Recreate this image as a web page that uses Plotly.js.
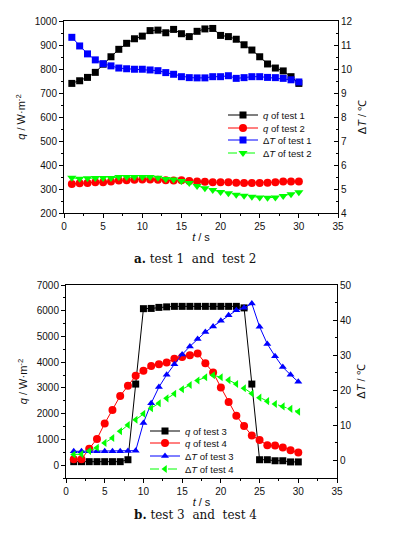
<!DOCTYPE html>
<html>
<head>
<meta charset="utf-8">
<script src="https://cdn.plot.ly/plotly-3.0.1.min.js"></script>
<style>
html,body{margin:0;padding:0;background:#fff;}
#chart{width:394px;height:534px;}
</style>
</head>
<body>
<div id="chart"></div>
<script>
// ---- data ----
var tTop = [1,2,3,4,5,6,7,8,9,10,11,12,13,14,15,16,17,18,19,20,21,22,23,24,25,26,27,28,29,30];
var qTest1 = [740,751,765,786,820,851,882,907,926,937,960,962,951,965,947,935,957,967,969,940,935,924,901,879,851,821,804,792,768,740];
var qTest2 = [321,324,325,328,328,331,335,336,339,340,340,339,336,335,336,333,331,330,328,328,328,326,325,325,325,326,328,331,331,331];
var dTTest1 = [11.32,10.96,10.63,10.38,10.22,10.13,10.04,10.01,9.99,9.99,9.96,9.93,9.85,9.78,9.68,9.64,9.63,9.63,9.68,9.68,9.72,9.61,9.64,9.68,9.68,9.65,9.64,9.61,9.55,9.46];
var dTTest2 = [5.47,5.43,5.45,5.46,5.46,5.46,5.50,5.50,5.50,5.50,5.50,5.47,5.42,5.40,5.33,5.25,5.13,5.03,4.96,4.88,4.82,4.76,4.72,4.68,4.65,4.64,4.65,4.71,4.78,4.86];

var tBottom = [1,2,3,4,5,6,7,8,9,10,11,12,13,14,15,16,17,18,19,20,21,22,23,24,25,26,27,28,29,30];
var qTest3 = [135,135,135,135,135,135,135,210,3150,6080,6090,6130,6150,6170,6170,6170,6170,6170,6170,6170,6170,6170,6110,3150,210,210,170,170,125,125];
var qTest4 = [230,230,640,1020,1620,2140,2690,3080,3470,3670,3850,3920,3990,4130,4200,4270,4340,3960,3600,3020,2450,1920,1520,1150,975,770,760,690,578,490];
var dTTest3 = [2.6,2.6,2.6,2.6,2.6,2.6,2.6,2.7,2.8,10.7,16.3,20.9,24.4,27.4,30.2,32.5,34.6,36.6,38.2,39.8,41.4,42.8,43.5,44.7,38.1,33.2,29.7,26.6,24.4,22.4];
var dTTest4 = [1.7,1.8,2.7,3.6,5.0,6.4,8.3,10.1,11.6,13.3,14.9,16.3,17.7,19.0,20.3,21.5,22.8,23.7,24.3,23.7,22.9,21.8,20.6,19.1,17.9,16.9,16.1,15.4,14.7,13.9];

var namesTop = ['<i>q</i> of test 1','<i>q</i> of test 2','Δ<i>T</i> of test 1','Δ<i>T</i> of test 2'];
var namesBottom = ['<i>q</i> of test 3','<i>q</i> of test 4','Δ<i>T</i> of test 3','Δ<i>T</i> of test 4'];
var captionTop = '<b>a.</b> test 1  and  test 2';
var captionBottom = '<b>b.</b> test 3  and  test 4';

// ---- layout helpers ----
var W = 394, H = 534;
function px(x){ return x / W; }
function py(y){ return 1 - y / H; }

var FONT = 'Liberation Sans, Arial, sans-serif';

function tr(x, y, name, xa, ya, color, symbol, size, dash, legend){
  return {
    x: x, y: y, name: name, xaxis: xa, yaxis: ya, legend: legend,
    type: 'scatter', mode: 'lines+markers',
    line: {color: color, width: 1, dash: dash},
    marker: {color: color, symbol: symbol, size: size, line: {width: 0}}
  };
}

var data = [
  tr(tTop, qTest1, namesTop[0], 'x', 'y', '#000000', 'square', 7, 'solid', 'legend'),
  tr(tTop, qTest2, namesTop[1], 'x', 'y', '#ff0000', 'circle', 8, 'solid', 'legend2'),
  tr(tTop, dTTest1, namesTop[2], 'x', 'y2', '#0000ff', 'square', 7, 'solid', 'legend3'),
  tr(tTop, dTTest2, namesTop[3], 'x', 'y2', '#00ff00', 'triangle-down', 8, 'dash', 'legend4'),
  tr(tBottom, qTest3, namesBottom[0], 'x2', 'y3', '#000000', 'square', 7, 'solid', 'legend5'),
  tr(tBottom, qTest4, namesBottom[1], 'x2', 'y3', '#ff0000', 'circle', 8, 'solid', 'legend6'),
  tr(tBottom, dTTest3, namesBottom[2], 'x2', 'y4', '#0000ff', 'triangle-up', 7, 'solid', 'legend7'),
  tr(tBottom, dTTest4, namesBottom[3], 'x2', 'y4', '#00ff00', 'triangle-left', 7, 'dash', 'legend8')
];

var tickFont = {family: FONT, size: 10, color: '#111'};
var titleFont = {family: FONT, size: 11, color: '#111'};

function xAxis(domain, anchor){
  return {
    domain: domain, anchor: anchor, range: [0, 35], dtick: 5, tick0: 0,
    ticks: 'outside', ticklen: 4, tickwidth: 1, tickcolor: '#000',
    minor: {dtick: 2.5, ticks: 'outside', ticklen: 2, tickcolor: '#000', showgrid: false},
    showline: true, linecolor: '#000', linewidth: 1, mirror: true,
    showgrid: false, zeroline: false, tickfont: tickFont,
    title: {text: '<i>t</i> / s', font: titleFont, standoff: 2},
    automargin: false
  };
}
function yAxis(domain, anchor, range, dtick, minor, title, side, overlay, ticksDir){
  var a = {
    domain: domain, anchor: anchor, range: range, dtick: dtick, tick0: 0,
    ticks: ticksDir, ticklen: 4, tickwidth: 1, tickcolor: '#000',
    minor: {dtick: minor, ticks: ticksDir, ticklen: 2, tickcolor: '#000', showgrid: false},
    showline: true, linecolor: '#000', linewidth: 1,
    showgrid: false, zeroline: false, tickfont: tickFont,
    title: {text: title, font: titleFont, standoff: 6},
    side: side, automargin: false
  };
  if (overlay) a.overlaying = overlay;
  return a;
}

var xDomTop = [px(64), px(338)], yDomTop = [py(213), py(21)];
var xDomBot = [px(66), px(337)], yDomBot = [py(478), py(285)];

var capFont = {family: 'DejaVu Serif, Liberation Serif, serif', size: 12, color: '#111'};

var layout = {
  width: W, height: H,
  margin: {l: 0, r: 0, t: 0, b: 0},
  paper_bgcolor: '#fff', plot_bgcolor: 'rgba(0,0,0,0)',
  font: {family: FONT, size: 10, color: '#111'},
  showlegend: true,
  xaxis: xAxis(xDomTop, 'y'),
  yaxis: yAxis(yDomTop, 'x', [200, 1000], 100, 50, '<i>q</i> / W·m<sup>-2</sup>', 'left', null, 'outside'),
  yaxis2: yAxis(yDomTop, 'x', [4, 12], 1, 0.5, 'Δ<i>T</i> / ℃', 'right', 'y', 'inside'),
  xaxis2: xAxis(xDomBot, 'y3'),
  yaxis3: yAxis(yDomBot, 'x2', [-500, 7000], 1000, 500, '<i>q</i> / W·m<sup>-2</sup>', 'left', null, 'outside'),
  yaxis4: yAxis(yDomBot, 'x2', [-5, 50], 10, 5, 'Δ<i>T</i> / ℃', 'right', 'y3', 'inside'),
  annotations: [
    {xref: 'paper', yref: 'paper', x: px(195), y: py(259), showarrow: false,
     text: captionTop, font: capFont},
    {xref: 'paper', yref: 'paper', x: px(195), y: py(524), showarrow: false,
     text: captionBottom, font: capFont}
  ]
};

// one single-entry legend per trace so entries can sit as tightly as in the reference
var legTop = [115, 128, 140, 153];
var legBot = [431, 443, 456, 469];
var legKeys = ['legend','legend2','legend3','legend4','legend5','legend6','legend7','legend8'];
for (var i = 0; i < 8; i++){
  var yc = i < 4 ? legTop[i] : legBot[i - 4];
  var xs = i < 4 ? 223 : 145;
  layout[legKeys[i]] = {
    x: px(xs), y: py(yc), xanchor: 'left', yanchor: 'middle',
    bgcolor: 'rgba(0,0,0,0)', borderwidth: 0,
    font: {family: FONT, size: 9.5, color: '#111'},
    itemwidth: 30, tracegroupgap: 0
  };
}

Plotly.newPlot('chart', data, layout, {displayModeBar: false, staticPlot: true});
</script>
</body>
</html>
